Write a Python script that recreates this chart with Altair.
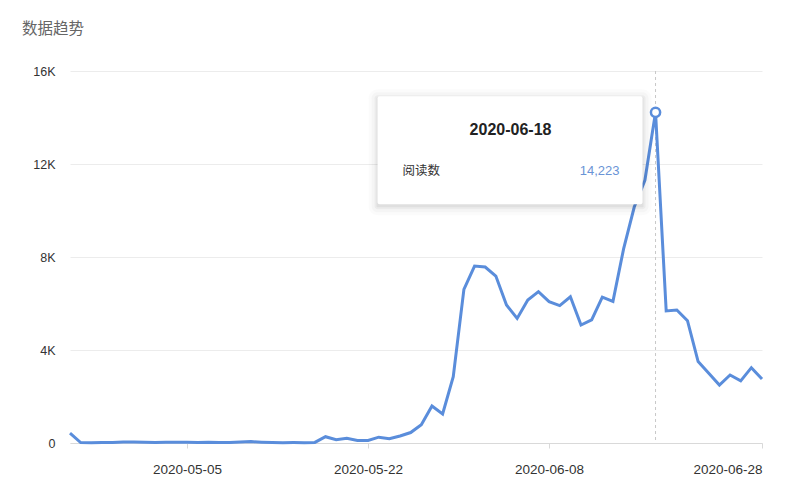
import altair as alt
import pandas as pd

start_date = "2020-04-24"
read_counts = [
    420, 20, 15, 20, 25, 40, 45, 30, 25, 30,
    35, 30, 25, 30, 20, 25, 40, 60, 35, 20,
    15, 20, 15, 25, 270, 140, 200, 110, 110, 250,
    180, 300, 450, 790, 1590, 1250, 2850, 6610, 7610, 7570,
    7180, 5935, 5360, 6150, 6510, 6080, 5910, 6290, 5075, 5300,
    6270, 6090, 8350, 10150, 11300, 14223, 5680, 5720, 5260, 3500,
    3000, 2495, 2925, 2670, 3240, 2750,
]
series_name = "阅读数"
chart_title = "数据趋势"
y_ticks = [0, 4000, 8000, 12000, 16000]
x_tick_dates = [(2020, 5, 5), (2020, 5, 22), (2020, 6, 8), (2020, 6, 28)]

dates = pd.date_range(start_date, periods=len(read_counts), freq="D")
df = pd.DataFrame({"date": dates, "value": read_counts})
peak_i = max(range(len(read_counts)), key=lambda i: read_counts[i])
peak = df.iloc[[peak_i]].copy()
peak["name"] = series_name

FONT = "Liberation Sans, 'Noto Sans CJK SC', sans-serif"
LINE = "#5a8ddb"

x_enc = alt.X(
    "date:T",
    scale=alt.Scale(domain=[dates[0].strftime("%Y-%m-%dT00:00:00"), dates[-1].strftime("%Y-%m-%dT00:00:00")], nice=False),
    axis=alt.Axis(
        values=[alt.DateTime(year=y, month=m, date=d) for y, m, d in x_tick_dates],
        format="%Y-%m-%d", labelFlush=True, grid=False,
        domainColor="#d9d9d9", tickColor="#d9d9d9", tickSize=5,
        labelPadding=14, title=None, labelColor="#333333", labelFontSize=13.5,
        labelFont=FONT,
    ),
)
y_enc = alt.Y(
    "value:Q",
    scale=alt.Scale(domain=[0, 16000], nice=False),
    axis=alt.Axis(
        values=y_ticks,
        labelExpr="datum.value == 0 ? '0' : (datum.value / 1000) + 'K'",
        domain=False, ticks=False, gridColor="#ececec", gridWidth=1,
        labelPadding=15, title=None, labelColor="#333333", labelFontSize=12.5,
        labelFont=FONT,
    ),
)

base = alt.Chart(df)
rule = alt.Chart(peak).mark_rule(color="#c8c8c8", strokeDash=[3, 3], strokeWidth=1).encode(x="date:T")
line = base.mark_line(color=LINE, strokeWidth=3, strokeJoin="miter").encode(x=x_enc, y=y_enc)

pk = alt.Chart(peak)
shadows = []
for k, op in [(9, 0.015), (6, 0.025), (3, 0.04), (1, 0.05)]:
    shadows.append(
        pk.mark_rect(color="#000000", opacity=op, xOffset=-278 - k, x2Offset=-13 + k,
                     yOffset=-16 - k + 2, y2Offset=92 + k + 2, cornerRadius=k)
        .encode(x="date:T", x2="date", y="value:Q", y2="value")
    )
box = pk.mark_rect(color="#ffffff", xOffset=-278, x2Offset=-13, yOffset=-16, y2Offset=92,
                   cornerRadius=2).encode(x="date:T", x2="date", y="value:Q", y2="value")
t_date = pk.mark_text(font=FONT, fontSize=16, fontWeight="bold", color="#222222",
                      align="center", baseline="middle", dx=-145, dy=18).encode(
    x="date:T", y="value:Q", text=alt.Text("date:T", format="%Y-%m-%d"))
t_name = pk.mark_text(font=FONT, fontSize=12.5, color="#333333", align="left",
                      baseline="middle", dx=-253, dy=59).encode(
    x="date:T", y="value:Q", text="name:N")
t_val = pk.mark_text(font=FONT, fontSize=13, color="#6a94d6", align="right",
                     baseline="middle", dx=-36, dy=59).encode(
    x="date:T", y="value:Q", text=alt.Text("value:Q", format=","))
dot = pk.mark_point(filled=True, fill="#ffffff", stroke=LINE, strokeWidth=2.5, size=85,
                    opacity=1, shape="circle").encode(x="date:T", y="value:Q")

chart = alt.layer(rule, line, *shadows, box, t_date, t_name, t_val, dot).properties(
    width=692, height=372,
    title=alt.TitleParams(chart_title, anchor="start", frame="group", dx=-48, offset=28,
                          fontSize=15.5, fontWeight="normal", color="#666666", font=FONT),
    autosize=alt.AutoSizeParams(type="none"),
    padding={"left": 62, "top": 63, "right": 30, "bottom": 51},
).configure_view(stroke=None)

chart.save("out.html", embed_options={"renderer": "svg", "actions": False})
